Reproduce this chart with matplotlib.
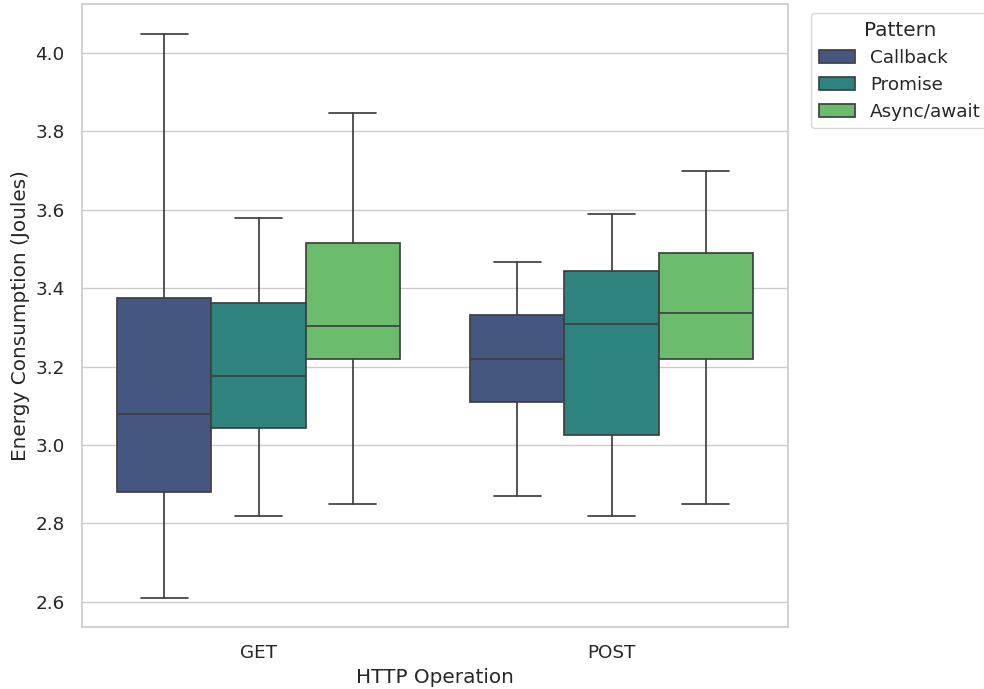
import matplotlib
matplotlib.use("Agg")
import matplotlib.pyplot as plt
import seaborn as sns
from matplotlib.patches import Patch

sns.set_theme(style="whitegrid", font_scale=1.2)
plt.rcParams['font.family'] = ['DejaVu Sans']

operations = ["GET", "POST"]
patterns = ["Callback", "Promise", "Async/await"]

# stats per [operation][pattern]: whislo, q1, med, q3, whishi
whislo = [[2.61, 2.82, 2.85], [2.87, 2.82, 2.85]]
q1 = [[2.88, 3.043, 3.219], [3.110, 3.026, 3.219]]
med = [[3.079, 3.177, 3.304], [3.219, 3.309, 3.337]]
q3 = [[3.376, 3.363, 3.516], [3.333, 3.444, 3.490]]
whishi = [[4.048, 3.579, 3.848], [3.468, 3.589, 3.699]]

base = sns.color_palette("viridis", 3)
colors = [sns.desaturate(c, 0.75) for c in base]
line_c = "#3f3f3f"

fig = plt.figure(figsize=(9.84, 6.89), dpi=100)
ax = fig.add_axes([82/984, 1-627/689, (788-82)/984, (627-4)/689])

width = 0.8 / 3
for i, op in enumerate(operations):
    for j, pat in enumerate(patterns):
        pos = i - 0.4 + width * (j + 0.5)
        st = [dict(whislo=whislo[i][j], q1=q1[i][j], med=med[i][j],
                   q3=q3[i][j], whishi=whishi[i][j], fliers=[])]
        ax.bxp(st, positions=[pos], widths=width, patch_artist=True,
               showfliers=False,
               boxprops=dict(facecolor=colors[j], edgecolor=line_c, linewidth=1.25),
               medianprops=dict(color=line_c, linewidth=1.25),
               whiskerprops=dict(color=line_c, linewidth=1.25),
               capprops=dict(color=line_c, linewidth=1.25),
               capwidths=width / 2, manage_ticks=False, zorder=2)

ax.set_xlim(-0.5, 1.5)
ax.set_ylim(2.536, 4.125)
ax.set_xticks(range(len(operations)))
ax.set_xticklabels(operations)
ax.set_yticks([2.6, 2.8, 3.0, 3.2, 3.4, 3.6, 3.8, 4.0])
ax.tick_params(axis='both', labelsize=13.2, pad=6.5)
ax.set_xlabel("HTTP Operation", fontsize=14.4)
ax.set_ylabel("Energy Consumption (Joules)", fontsize=14.4)
ax.grid(axis='x', visible=False)
ax.set_axisbelow(True)

handles = [Patch(facecolor=colors[j], edgecolor=line_c, linewidth=1.25, label=p)
           for j, p in enumerate(patterns)]
ax.legend(handles=handles, title="Pattern", loc="upper left",
          bbox_to_anchor=(1.02, 1), fontsize=13.2, title_fontsize=14.4)

fig.savefig("out.png", dpi=100)
